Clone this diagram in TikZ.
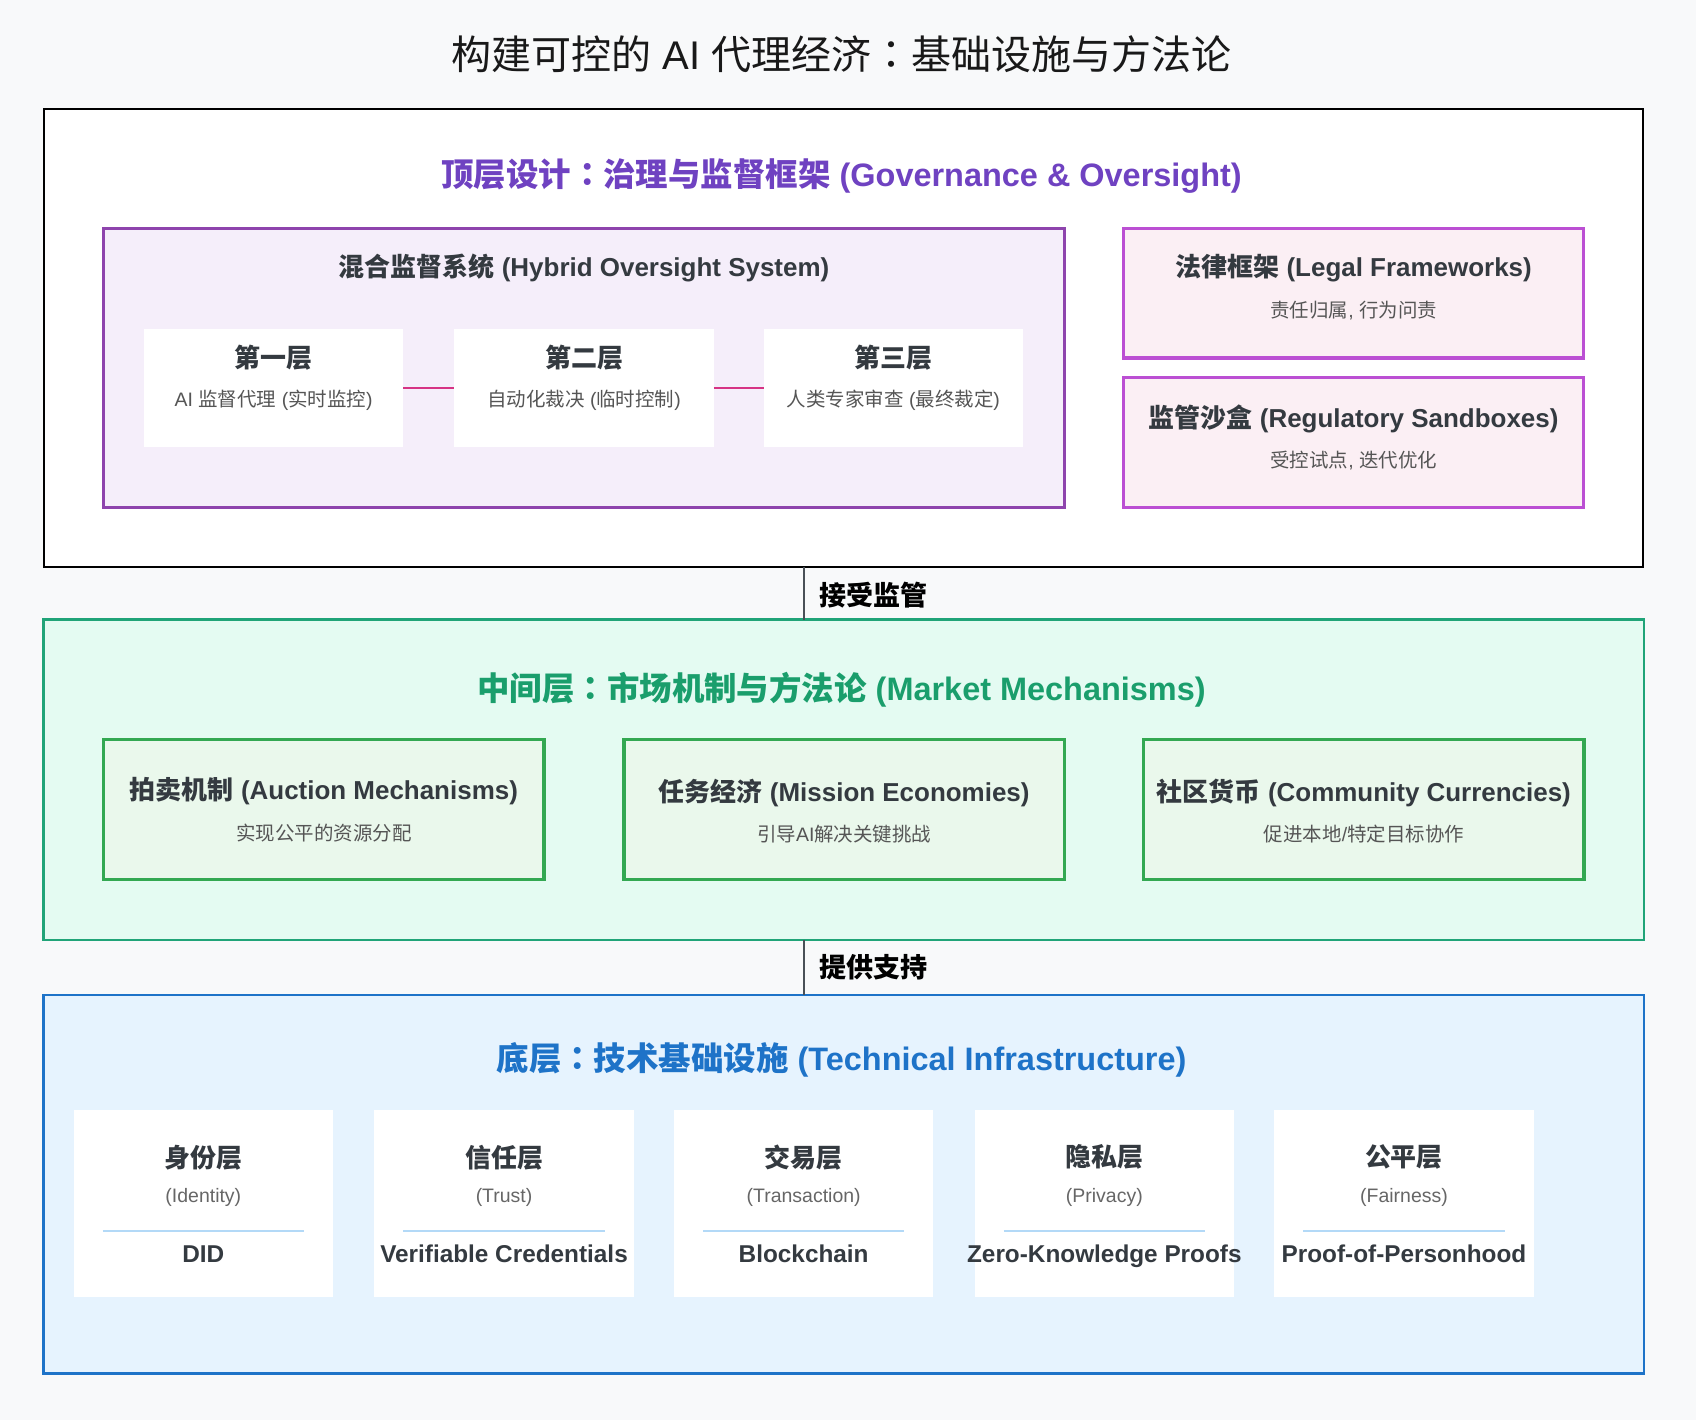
\documentclass[tikz,border=0pt]{standalone}
\usepackage{fontspec}
\setmainfont{Liberation Sans}
\newfontfamily\zhfont{Noto Sans CJK SC}
\newfontfamily\jpfont{Noto Sans CJK JP}
\newcommand\zh[1]{{\zhfont #1}}
\newcommand\zcol{{\jpfont ：}}
\definecolor{bgc}{HTML}{F8F9FA}
\definecolor{dark}{HTML}{343A40}
\definecolor{subc}{HTML}{555555}
\definecolor{subl}{HTML}{666666}
\definecolor{purp}{HTML}{6F42C1}
\definecolor{hybf}{HTML}{F5EEFA}
\definecolor{hybd}{HTML}{8E44AD}
\definecolor{pinkf}{HTML}{FBEFF4}
\definecolor{pinkd}{HTML}{BB4FD3}
\definecolor{connpink}{HTML}{D63384}
\definecolor{mintf}{HTML}{E4FBF2}
\definecolor{mintd}{HTML}{20A478}
\definecolor{mintt}{HTML}{1A9E6C}
\definecolor{gf}{HTML}{EAF8EC}
\definecolor{gd}{HTML}{33A852}
\definecolor{bluef}{HTML}{E6F3FE}
\definecolor{blued}{HTML}{1E73C8}
\definecolor{bluet}{HTML}{1E73C8}
\definecolor{sepc}{HTML}{B3D9F7}
\definecolor{connc}{HTML}{495057}
\begin{document}
\begin{tikzpicture}[x=1pt,y=-1pt,
  panel/.style={rectangle,inner sep=0pt,outer sep=0pt,anchor=center},
  txt/.style={inner sep=0pt,anchor=center,text=dark},
  hd/.style={txt,font=\fontsize{30}{34}\selectfont\bfseries},
  tb/.style={txt,font=\fontsize{24}{28}\selectfont\bfseries},
  ts/.style={txt,text=subc,font=\fontsize{18}{22}\selectfont},
  tech/.style={txt,text height=17pt,text depth=5pt,font=\fontsize{22.5}{26}\selectfont\bfseries},
  tl/.style={txt,text=black,anchor=west,font=\fontsize{25}{29}\selectfont\bfseries},
  conn/.style={draw=connc,line width=1.6pt},
  pconn/.style={draw=connpink,line width=2pt},
  sep/.style={draw=sepc,line width=2.5pt}]
\fill[bgc] (0,0) rectangle (1568,1312.8);
\useasboundingbox (0,0) rectangle (1568,1312.8);

% title
\node[txt,text=black!90,font=\fontsize{37}{42}\selectfont] (title) at (778,50) {\zh{构建可控的} AI \zh{代理经济}\zcol\zh{基础设施与方法论}};

% ---------- top layer ----------
\node[panel,draw=black,line width=2pt,fill=white,minimum width=1478,minimum height=423] (top) at (780,312.5) {};
\node[hd,text=purp] (tophd) at (778,163) {\zh{顶层设计}\zcol\zh{治理与监督框架} (Governance \& Oversight)};

\node[panel,draw=hybd,line width=3pt,fill=hybf,minimum width=888,minimum height=258] (hyb) at (540,340) {};
\node[tb] (hybt) at (540,248) {\zh{混合监督系统} (Hybrid Oversight System)};

\node[panel,fill=white,minimum width=240,minimum height=109] (l1) at (253,358.5) {};
\node[panel,fill=white,minimum width=240,minimum height=109] (l2) at (540,358.5) {};
\node[panel,fill=white,minimum width=240,minimum height=109] (l3) at (826,358.5) {};
\draw[pconn] (l1.east) -- (l2.west);
\draw[pconn] (l2.east) -- (l3.west);
\node[tb] (l1t) at (253,331) {\zh{第一层}};
\node[ts] (l1s) at (253,370) {AI \zh{监督代理} (\zh{实时监控})};
\node[tb] (l2t) at (540,331) {\zh{第二层}};
\node[ts] (l2s) at (540,370) {\zh{自动化裁决} (\zh{临时控制})};
\node[tb] (l3t) at (826,331) {\zh{第三层}};
\node[ts] (l3s) at (826,370) {\zh{人类专家审查} (\zh{最终裁定})};

\node[panel,draw=pinkd,line width=3pt,fill=pinkf,minimum width=425,minimum height=120] (legal) at (1251.5,271) {};
\node[tb] (legalt) at (1251.5,248) {\zh{法律框架} (Legal Frameworks)};
\node[ts] (legals) at (1251.5,287) {\zh{责任归属}, \zh{行为问责}};
\node[panel,draw=pinkd,line width=3pt,fill=pinkf,minimum width=425,minimum height=120] (sand) at (1251.5,409) {};
\node[tb] (sandt) at (1251.5,387) {\zh{监管沙盒} (Regulatory Sandboxes)};
\node[ts] (sands) at (1251.5,426) {\zh{受控试点}, \zh{迭代优化}};

% ---------- middle layer ----------
\node[panel,draw=mintd,line width=2.5pt,fill=mintf,minimum width=1480,minimum height=296] (mid) at (780,721) {};
\node[hd,text=mintt] (midhd) at (778,638) {\zh{中间层}\zcol\zh{市场机制与方法论} (Market Mechanisms)};

\node[panel,draw=gd,line width=3pt,fill=gf,minimum width=407,minimum height=129] (m1) at (299.5,748.5) {};
\node[panel,draw=gd,line width=3pt,fill=gf,minimum width=407,minimum height=129] (m2) at (780.5,748.5) {};
\node[panel,draw=gd,line width=3pt,fill=gf,minimum width=407,minimum height=129] (m3) at (1261,748.5) {};
\node[tb] (m1t) at (299.5,731) {\zh{拍卖机制} (Auction Mechanisms)};
\node[ts] (m1s) at (299.5,770) {\zh{实现公平的资源分配}};
\node[tb] (m2t) at (780.5,733) {\zh{任务经济} (Mission Economies)};
\node[ts] (m2s) at (780.5,771) {\zh{引导}AI\zh{解决关键挑战}};
\node[tb] (m3t) at (1261,733) {\zh{社区货币} (Community Currencies)};
\node[ts] (m3s) at (1261,771) {\zh{促进本地}/\zh{特定目标协作}};

% ---------- bottom layer ----------
\node[panel,draw=blued,line width=2.5pt,fill=bluef,minimum width=1480,minimum height=350] (bot) at (780,1095) {};
\node[hd,text=bluet] (bothd) at (778,980) {\zh{底层}\zcol\zh{技术基础设施} (Technical Infrastructure)};

\foreach \i/\cx/\zt/\en/\tech in {1/188/身份层/Identity/DID,2/466/信任层/Trust/Verifiable Credentials,3/743/交易层/Transaction/Blockchain,4/1021/隐私层/Privacy/Zero-Knowledge Proofs,5/1298/公平层/Fairness/Proof-of-Personhood}{
  \node[panel,fill=white,minimum width=240,minimum height=173] (b\i) at (\cx,1112.5) {};
  \node[tb] (b\i t) at (\cx,1070) {\zh{\zt}};
  \node[ts,text=subl] (b\i s) at (\cx,1107) {(\en)};
  \draw[sep] ([shift={(-93,25.5)}]b\i.center) -- ([shift={(93,25.5)}]b\i.center);
  \node[tech] (b\i x) at (\cx,1161) {\tech};
}

% ---------- connectors ----------
\coordinate (cx) at (743,0);
\draw[conn] (cx |- top.south) -- (cx |- mid.north);
\draw[conn] (cx |- mid.south) -- (cx |- bot.north);
\node[tl] (c1) at (757,550) {\zh{接受监管}};
\node[tl] (c2) at (757,894) {\zh{提供支持}};
\end{tikzpicture}
\end{document}
